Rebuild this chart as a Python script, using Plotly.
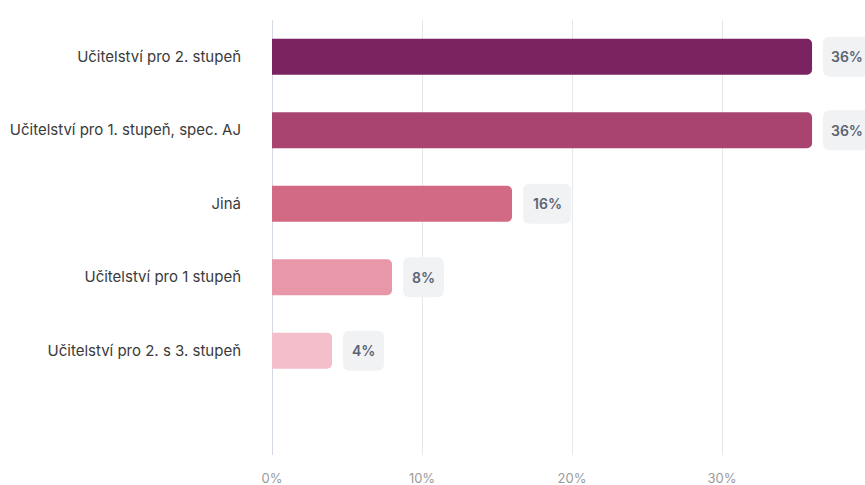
import plotly.graph_objects as go

categories = ["Učitelství pro 2. stupeň", "Učitelství pro 1. stupeň, spec. AJ", "Jiná",
              "Učitelství pro 1 stupeň", "Učitelství pro 2. s 3. stupeň"]
values = [36, 36, 16, 8, 4]
labels = ["36%", "36%", "16%", "8%", "4%"]
colors = ["#7b2360", "#a8446f", "#d26a83", "#e897a8", "#f4bfca"]
x_ticks = [0, 10, 20, 30]
x_ticktext = ["0%", "10%", "20%", "30%"]

fig = go.Figure()
fig.add_trace(go.Bar(
    y=categories, x=values, orientation="h",
    marker=dict(color=colors, cornerradius=5, line=dict(width=0)),
    width=0.49, hoverinfo="skip",
))

def rrect(x0, x1, y0, y1, r):
    return (f"M {x0+r},{y0} L {x1-r},{y0} Q {x1},{y0} {x1},{y0+r} "
            f"L {x1},{y1-r} Q {x1},{y1} {x1-r},{y1} L {x0+r},{y1} "
            f"Q {x0},{y1} {x0},{y1-r} L {x0},{y0+r} Q {x0},{y0} {x0+r},{y0} Z")

shapes = []
annotations = []
for i, (v, t) in enumerate(zip(values, labels)):
    w = 41 if len(t) == 2 else 48
    shapes.append(dict(
        type="path", xref="x", yref="y",
        xsizemode="pixel", ysizemode="pixel",
        xanchor=v, yanchor=i,
        path=rrect(11, 11 + w, -20, 20, 7),
        fillcolor="#f1f2f4", line=dict(width=0), layer="above",
    ))
    annotations.append(dict(
        x=v, y=i, xref="x", yref="y", text=t, showarrow=False,
        xanchor="center", xshift=11 + w / 2,
        font=dict(family="Inter", size=14, color="#5b6472", weight=600),
    ))

fig.update_layout(
    width=865, height=485,
    margin=dict(l=272, r=0, t=20, b=30),
    plot_bgcolor="white", paper_bgcolor="white",
    showlegend=False,
    shapes=shapes, annotations=annotations,
    font=dict(family="Inter"),
    xaxis=dict(range=[0, 39.53], tickvals=x_ticks, ticktext=x_ticktext,
               showgrid=True, gridcolor="#e6e7eb", gridwidth=1,
               zeroline=True, zerolinecolor="#d3dae6", zerolinewidth=1,
               showline=False, ticks="", ticklabelstandoff=14, automargin=False,
               tickfont=dict(family="Inter", size=13, color="#9a9a9a")),
    yaxis=dict(categoryorder="array", categoryarray=categories,
               range=[5.42, -0.5], showgrid=False, zeroline=False,
               showline=False, ticks="", ticklabelstandoff=30, automargin=False,
               tickfont=dict(family="Inter", size=15, color="#3a3a3a")),
)

fig.write_html(
    "out.html",
    config={"displayModeBar": False},
    post_script="document.body.style.margin='0';document.body.style.overflow='hidden';",
)
